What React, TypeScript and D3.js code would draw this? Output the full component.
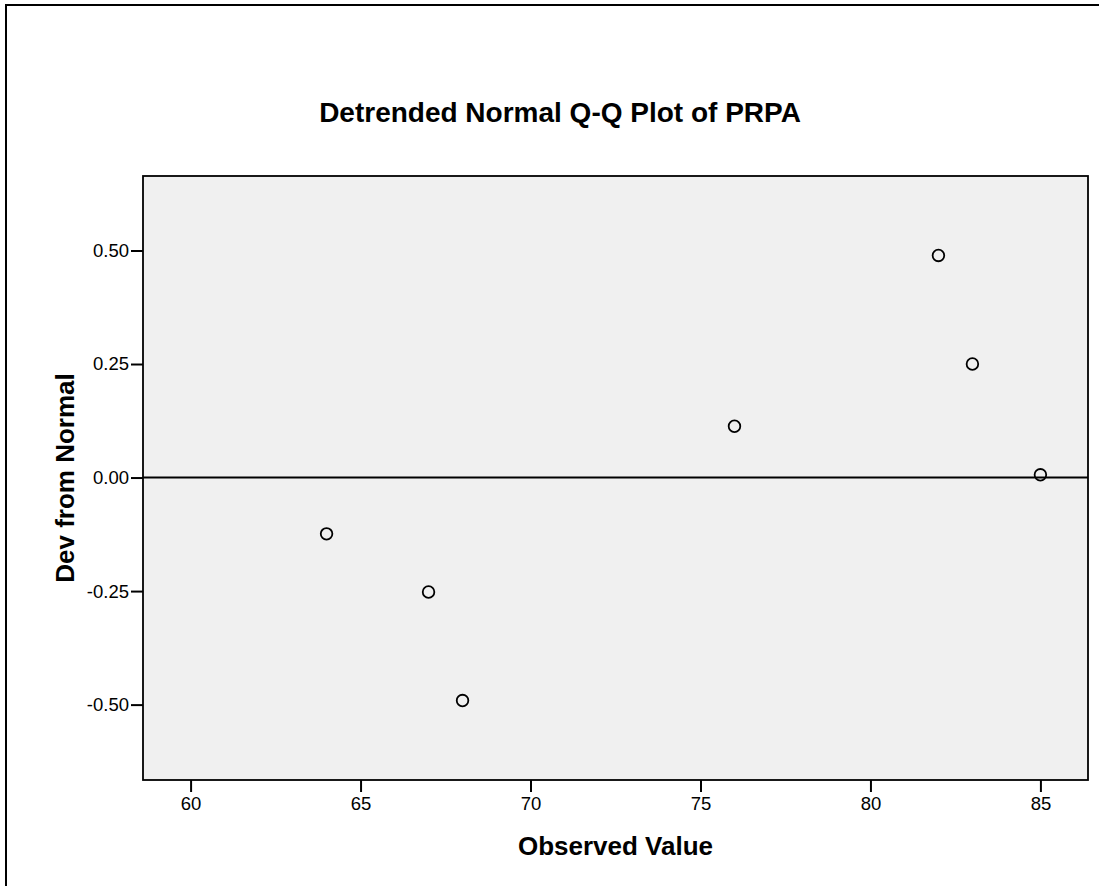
import React, { useEffect, useRef } from "react";
import * as d3 from "d3";

// observed values and their deviation from normal
const observed = [64, 67, 68, 76, 82, 83, 85];
const deviation = [-0.124, -0.252, -0.491, 0.113, 0.489, 0.25, 0.006];
const xTicks = [60, 65, 70, 75, 80, 85];
const yTicks = [-0.5, -0.25, 0, 0.25, 0.5];

const WIDTH = 1099;
const HEIGHT = 886;
const FONT = "Arial, 'Liberation Sans', sans-serif";

export default function App() {
  const svgRef = useRef<SVGSVGElement | null>(null);

  useEffect(() => {
    const root = d3.select(svgRef.current);
    root.selectAll("*").remove();

    const plot = { left: 143, top: 176, right: 1088, bottom: 780 };

    const x = d3.scaleLinear().domain([58.6, 86.4]).range([plot.left, plot.right]);
    const y = d3.scaleLinear().domain([-0.666, 0.664]).range([plot.bottom, plot.top]);

    // outer frame (cut off on the right and bottom)
    root
      .append("rect")
      .attr("x", 6)
      .attr("y", 5)
      .attr("width", WIDTH + 20)
      .attr("height", HEIGHT + 20)
      .attr("fill", "white")
      .attr("stroke", "black")
      .attr("stroke-width", 2);

    // plot background
    root
      .append("rect")
      .attr("x", plot.left)
      .attr("y", plot.top)
      .attr("width", plot.right - plot.left)
      .attr("height", plot.bottom - plot.top)
      .attr("fill", "#f0f0f0");

    // axes
    const xAxis = root
      .append("g")
      .attr("transform", `translate(0,${plot.bottom})`)
      .call(
        d3
          .axisBottom(x)
          .tickValues(xTicks)
          .tickSize(12)
          .tickPadding(5)
          .tickFormat((d) => String(d))
      );
    xAxis.select(".domain").remove();
    xAxis.attr("font-size", null).attr("font-family", null);
    xAxis.selectAll("line").attr("stroke", "black").attr("stroke-width", 2);
    xAxis
      .selectAll("text")
      .attr("fill", "black")
      .style("font-family", FONT)
      .style("font-size", "18.5px");

    const yAxis = root
      .append("g")
      .attr("transform", `translate(${plot.left},0)`)
      .call(
        d3
          .axisLeft(y)
          .tickValues(yTicks)
          .tickSize(12)
          .tickPadding(2)
          .tickFormat((d) => (+d).toFixed(2))
      );
    yAxis.select(".domain").remove();
    yAxis.attr("font-size", null).attr("font-family", null);
    yAxis.selectAll("line").attr("stroke", "black").attr("stroke-width", 2);
    yAxis
      .selectAll("text")
      .attr("fill", "black")
      .style("font-family", FONT)
      .style("font-size", "18.5px");

    // plot border
    root
      .append("rect")
      .attr("x", plot.left)
      .attr("y", plot.top)
      .attr("width", plot.right - plot.left)
      .attr("height", plot.bottom - plot.top)
      .attr("fill", "none")
      .attr("stroke", "black")
      .attr("stroke-width", 1.8);

    // zero reference line
    root
      .append("line")
      .attr("x1", plot.left)
      .attr("x2", plot.right)
      .attr("y1", y(0))
      .attr("y2", y(0))
      .attr("stroke", "black")
      .attr("stroke-width", 2);

    // points
    root
      .append("g")
      .selectAll("circle")
      .data(observed.map((v, i) => ({ v, d: deviation[i] })))
      .join("circle")
      .attr("cx", (p) => x(p.v))
      .attr("cy", (p) => y(p.d))
      .attr("r", 5.8)
      .attr("fill", "none")
      .attr("stroke", "black")
      .attr("stroke-width", 1.8);

    // title and axis labels
    root
      .append("text")
      .attr("x", 560)
      .attr("y", 122)
      .attr("text-anchor", "middle")
      .style("font-family", FONT)
      .style("font-size", "28px")
      .style("font-weight", "bold")
      .text("Detrended Normal Q-Q Plot of PRPA");

    root
      .append("text")
      .attr("x", (plot.left + plot.right) / 2)
      .attr("y", 855)
      .attr("text-anchor", "middle")
      .style("font-family", FONT)
      .style("font-size", "26px")
      .style("font-weight", "bold")
      .text("Observed Value");

    root
      .append("text")
      .attr("transform", `translate(74,${(plot.top + plot.bottom) / 2}) rotate(-90)`)
      .attr("text-anchor", "middle")
      .style("font-family", FONT)
      .style("font-size", "26px")
      .style("font-weight", "bold")
      .text("Dev from Normal");
  }, []);

  return (
    <svg
      ref={svgRef}
      width={WIDTH}
      height={HEIGHT}
      style={{ position: "absolute", left: 0, top: 0, background: "white" }}
    />
  );
}
